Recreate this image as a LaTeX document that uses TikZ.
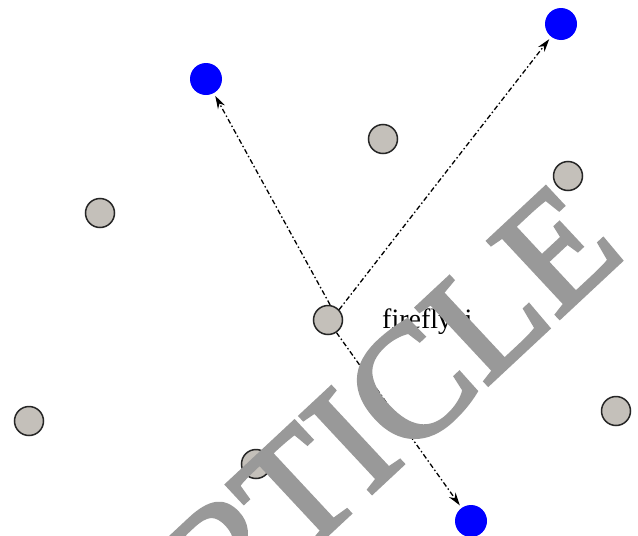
\documentclass[tikz,border=0pt]{standalone}
\usepackage{fontspec}
\setmainfont{Liberation Serif}
\newfontfamily\wmfont[FakeBold=2.5]{Liberation Serif}
\usetikzlibrary{arrows.meta}
\definecolor{ffgray}{HTML}{C4C0BA}
\definecolor{wmgray}{HTML}{999999}
\begin{document}
\begin{tikzpicture}[x=1pt,y=-1pt,
  fly/.style={circle,draw=black!85,line width=1.5pt,fill=ffgray,minimum size=29pt,inner sep=0pt},
  best/.style={circle,fill=blue,minimum size=32pt,inner sep=0pt},
  arr/.style={line width=1.3pt,dash pattern=on 5pt off 2.5pt on 1.5pt off 2.5pt,-{Stealth[length=13pt,width=8pt]},shorten >=3pt}]
\useasboundingbox (0,0) rectangle (638,536);
\clip (0,0) rectangle (638,536);
\fill[white] (0,0) rectangle (638,536);
\node[best] (b1) at (206,79) {};
\node[best] (b2) at (561,24) {};
\node[best] (b3) at (471,521) {};
\node[fly] (g1) at (383,139) {};
\node[fly] (g2) at (100,213) {};
\node[fly] (g3) at (568,176) {};
\node[fly] (c) at (328,320) {};
\node[fly] (g4) at (29,421) {};
\node[fly] (g5) at (616,411) {};
\node[fly] (g6) at (256,464) {};
\draw[arr] (c.82) -- (b1);
\draw[arr] (c.43) -- (b2);
\draw[arr] (c.-56) -- (b3);
\node[anchor=base west,font=\fontsize{28}{28}\selectfont,inner sep=0pt] (t) at (382,328) {firefly\hspace{0.45em}i};
\node[rotate=43,anchor=base east,text=wmgray,inner sep=0pt,font=\wmfont\fontsize{160}{160}\selectfont] (wm) at (628,254) {RETRACTED ARTICLE};
\end{tikzpicture}
\end{document}
